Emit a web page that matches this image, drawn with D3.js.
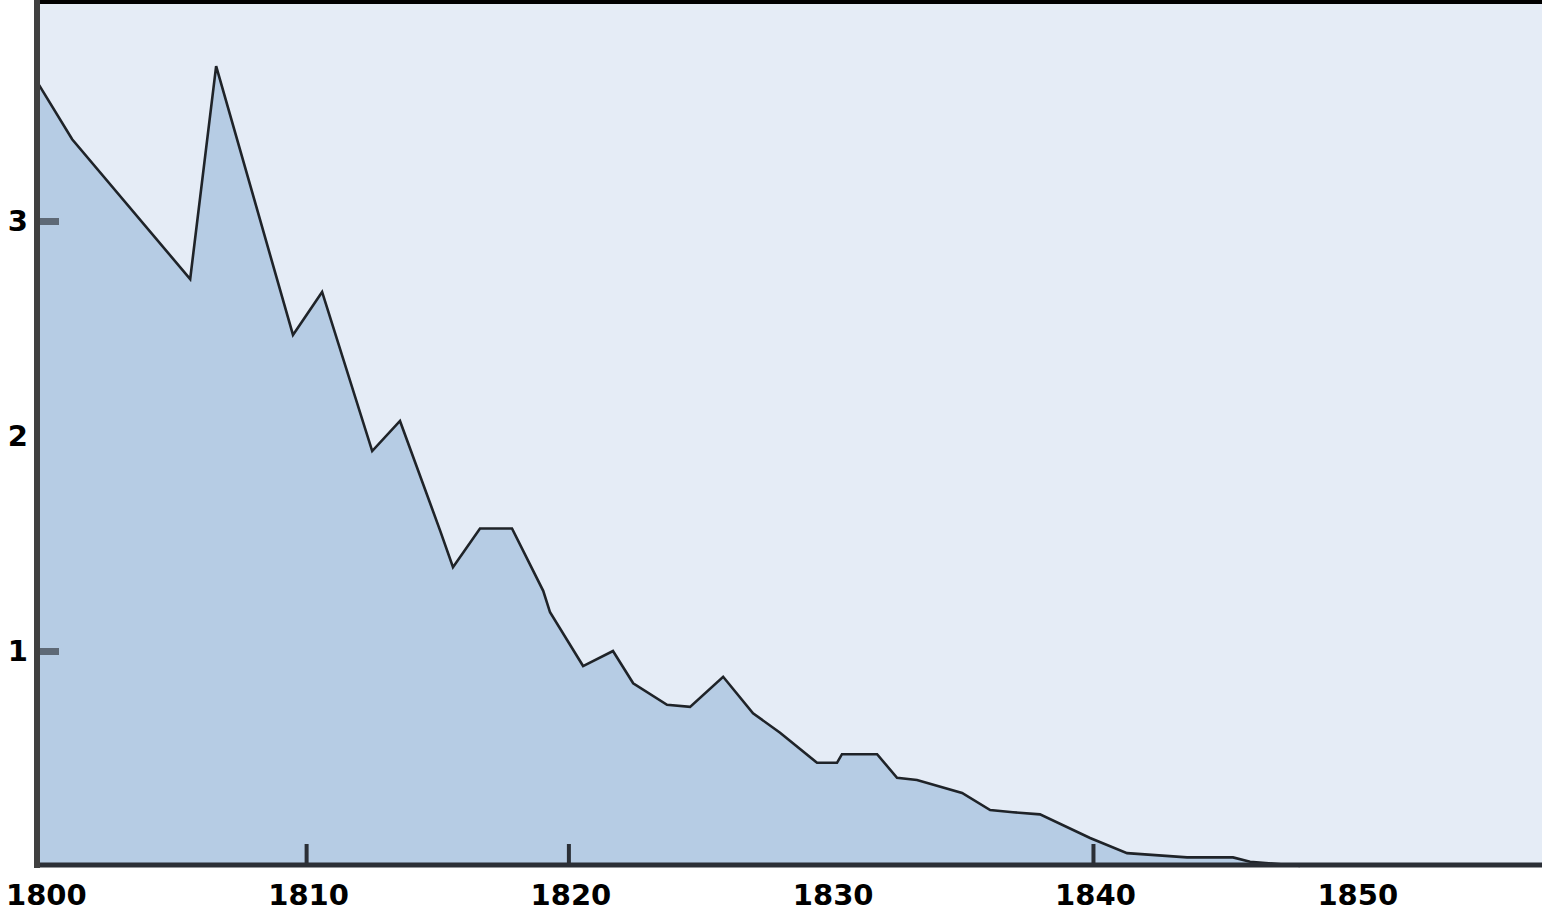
<!DOCTYPE html>
<html>
<head>
<meta charset="utf-8">
<script src="https://cdn.jsdelivr.net/npm/d3@7"></script>
<style>
html, body { margin: 0; padding: 0; background: #ffffff; }
svg { display: block; }
</style>
</head>
<body>
<svg id="chart" width="1542" height="912"></svg>
<script>
// Data (year, value)
const years  = [1799.78, 1801.08, 1805.58, 1806.57, 1809.5, 1810.61, 1812.52, 1813.58, 1815.11, 1815.6,
                1816.63, 1817.85, 1819.04, 1819.3, 1820.56, 1821.7, 1822.47, 1823.76, 1824.64, 1825.9,
                1827.04, 1828.07, 1829.48, 1830.24, 1830.43, 1831.77, 1832.53, 1833.29, 1835.01, 1836.08,
                1836.95, 1837.98, 1839.89, 1841.3, 1843.59, 1845.34, 1845.99, 1847.9];
const values = [3.64, 3.38, 2.73, 3.72, 2.47, 2.67, 1.93, 2.07, 1.56, 1.39,
                1.57, 1.57, 1.28, 1.18, 0.93, 1.00, 0.85, 0.75, 0.74, 0.88,
                0.71, 0.62, 0.48, 0.48, 0.52, 0.52, 0.41, 0.40, 0.34, 0.26,
                0.25, 0.24, 0.13, 0.06, 0.04, 0.04, 0.02, 0.00];
const xLabelTicks = [1800, 1810, 1820, 1830, 1840, 1850];
const xMarkTicks  = [1810, 1820, 1840];
const yLabelTicks = [1, 2, 3];
const yMarkTicks  = [1, 3];

const data = years.map((yr, i) => ({ year: yr, value: values[i] }));

const svg = d3.select("#chart");
const pLeft = 37, pRight = 1542, pTop = 4, pBottom = 866;

const x = d3.scaleLinear().domain([1799.74, 1857.12]).range([pLeft, pRight]);
const y = d3.scaleLinear().domain([0, 4]).range([pBottom, pBottom - 4 * 215]);

// plot background
svg.append("rect")
  .attr("x", pLeft).attr("y", pTop)
  .attr("width", pRight - pLeft).attr("height", pBottom - pTop)
  .attr("fill", "#e5ecf6");

// area
const area = d3.area()
  .x(d => x(d.year))
  .y0(y(0))
  .y1(d => y(d.value));
svg.append("path").datum(data)
  .attr("d", area)
  .attr("fill", "#b6cce4");

// line
const line = d3.line()
  .x(d => x(d.year))
  .y(d => y(d.value));
svg.append("path").datum(data)
  .attr("d", line)
  .attr("fill", "none")
  .attr("stroke", "#1f2328")
  .attr("stroke-width", 2.6)
  .attr("stroke-linejoin", "miter");

// top border
svg.append("rect")
  .attr("x", 34).attr("y", 0)
  .attr("width", pRight - 34).attr("height", 4)
  .attr("fill", "#000");

// x axis labels
const xLab = svg.append("g")
  .attr("transform", `translate(2,${pBottom})`)
  .call(d3.axisBottom(x).tickValues(xLabelTicks).tickFormat(d3.format("d")).tickSize(0).tickPadding(0));
xLab.select(".domain").remove();
xLab.selectAll("text")
  .attr("dy", null)
  .attr("y", 39)
  .attr("font-family", "DejaVu Sans")
  .attr("font-weight", "bold")
  .attr("font-size", 29)
  .attr("fill", "#000");

// x tick marks (inward)
const xMarks = svg.append("g")
  .attr("transform", `translate(0,${pBottom})`)
  .call(d3.axisBottom(x).tickValues(xMarkTicks).tickFormat("").tickSizeInner(-22).tickSizeOuter(0));
xMarks.select(".domain").remove();
xMarks.selectAll("line").attr("stroke", "#2b2f36").attr("stroke-width", 4);

// x axis baseline
svg.append("line")
  .attr("x1", 34).attr("x2", pRight)
  .attr("y1", pBottom - 1).attr("y2", pBottom - 1)
  .attr("stroke", "#2b2f36").attr("stroke-width", 5);

// y axis labels
const yLab = svg.append("g")
  .attr("transform", `translate(${pLeft},0)`)
  .call(d3.axisLeft(y).tickValues(yLabelTicks).tickFormat(d3.format("d")).tickSize(0).tickPadding(9));
yLab.select(".domain").remove();
yLab.selectAll("text")
  .attr("font-family", "DejaVu Sans")
  .attr("font-weight", "bold")
  .attr("font-size", 29)
  .attr("fill", "#000");

// y tick marks (inward)
const yMarks = svg.append("g")
  .attr("transform", `translate(${pLeft},0)`)
  .call(d3.axisLeft(y).tickValues(yMarkTicks).tickFormat("").tickSizeInner(-22).tickSizeOuter(0));
yMarks.select(".domain").remove();
yMarks.selectAll("line").attr("stroke", "#5e6976").attr("stroke-width", 7);

// y axis line
svg.append("line")
  .attr("x1", 37).attr("x2", 37)
  .attr("y1", 0).attr("y2", pBottom + 2)
  .attr("stroke", "#404040").attr("stroke-width", 6);
</script>
</body>
</html>
